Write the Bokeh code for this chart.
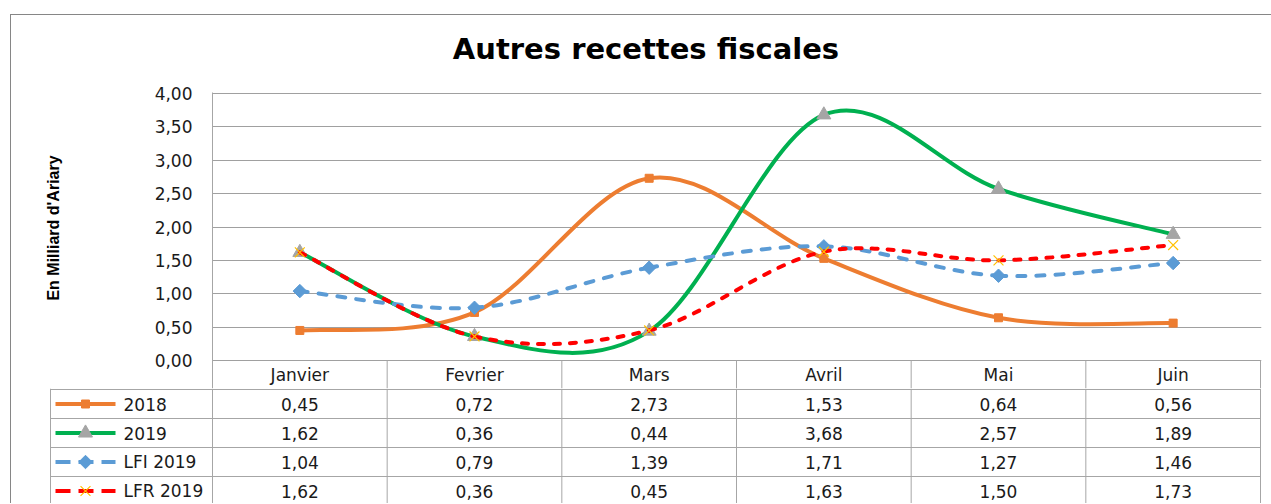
import numpy as np
from bokeh.plotting import figure
from bokeh.models import Range1d, FixedTicker
from bokeh.layouts import column, row
from bokeh.embed import file_html
from bokeh.resources import INLINE
from bokeh.core.properties import value

# ---------------- data ----------------
title_text = "Autres recettes fiscales"
y_axis_title = "En Milliard d'Ariary"
categories = ["Janvier", "Fevrier", "Mars", "Avril", "Mai", "Juin"]
series_names = ["2018", "2019", "LFI 2019", "LFR 2019"]
values_2018 = [0.45, 0.72, 2.73, 1.53, 0.64, 0.56]
values_2019 = [1.62, 0.36, 0.44, 3.68, 2.57, 1.89]
values_lfi_2019 = [1.04, 0.79, 1.39, 1.71, 1.27, 1.46]
values_lfr_2019 = [1.62, 0.36, 0.45, 1.63, 1.50, 1.73]
y_ticks = [0.0, 0.5, 1.0, 1.5, 2.0, 2.5, 3.0, 3.5, 4.0]
y_tick_labels = ["0,00", "0,50", "1,00", "1,50", "2,00", "2,50", "3,00", "3,50", "4,00"]

series_values = [values_2018, values_2019, values_lfi_2019, values_lfr_2019]

# ---------------- styles ----------------
styles = [
    dict(color="#ED7D31", dash="solid", marker="square", mfill="#ED7D31", mline="#ED7D31", msize=8, mwidth=1, angle=0),
    dict(color="#00B050", dash="solid", marker="triangle", mfill="#A5A5A5", mline="#A5A5A5", msize=14, mwidth=1, angle=0),
    dict(color="#5B9BD5", dash="8 11", marker="square", mfill="#5B9BD5", mline="#5B9BD5", msize=9.5, mwidth=1, angle=np.pi / 4),
    dict(color="#FF0000", dash="6 10", marker="x", mfill=None, mline="#FFC000", msize=14, mwidth=1.2, angle=0),
]
FONT = "DejaVu Sans"
FSIZE = "17px"
TXT = "#1a1a1a"
GRID = "#A0A0A0"
TABLE_LINE = "#A6A6A6"

W = 1260            # total width of the chart box content
COL_W = 1048 / 6.0  # pixel width of one category column
PX_PER_UNIT = 66.75 # vertical pixels per 1.00 on the value axis
ROW_H = 29.0


def smooth_segments(xs, ys):
    """Bezier control points (Catmull-Rom style smoothing as in Excel)."""
    n = len(xs)
    out = dict(x0=[], y0=[], x1=[], y1=[], cx0=[], cy0=[], cx1=[], cy1=[])
    for i in range(n - 1):
        a = max(i - 1, 0)
        d = min(i + 2, n - 1)
        out["x0"].append(xs[i]); out["y0"].append(ys[i])
        out["x1"].append(xs[i + 1]); out["y1"].append(ys[i + 1])
        out["cx0"].append(xs[i] + (xs[i + 1] - xs[a]) / 6.0)
        out["cy0"].append(ys[i] + (ys[i + 1] - ys[a]) / 6.0)
        out["cx1"].append(xs[i + 1] - (xs[d] - xs[i]) / 6.0)
        out["cy1"].append(ys[i + 1] - (ys[d] - ys[i]) / 6.0)
    return out


def bare(p):
    p.axis.visible = False
    p.grid.grid_line_color = None
    p.outline_line_color = None
    p.min_border = 0
    p.background_fill_color = "white"
    p.border_fill_color = "white"


# ---------------- title strip ----------------
T_H = 60
pT = figure(width=W, height=T_H, x_range=Range1d(0, W), y_range=Range1d(T_H, 0),
            output_backend="svg", toolbar_location=None)
bare(pT)
pT.text(x=[419], y=[33], text=[title_text], text_font=value("DejaVu Sans"),
        text_font_style="bold", text_font_size="29px", text_color="#000000",
        text_align="left", text_baseline="alphabetic")

# ---------------- y-axis title strip ----------------
A_H = 313
L_W = 130
pL = figure(width=L_W, height=A_H, x_range=Range1d(0, L_W), y_range=Range1d(A_H, 0),
            output_backend="svg", toolbar_location=None)
bare(pL)
pL.text(x=[42], y=[220], text=[y_axis_title], angle=np.pi / 2,
        text_font=value("Liberation Sans"), text_font_style="bold", text_font_size="16px",
        text_color="#000000", text_align="left", text_baseline="middle")

# ---------------- chart ----------------
xpos = list(range(len(categories)))
header_h = 28
y_bottom = -header_h / PX_PER_UNIT
pA = figure(width=W - L_W, height=A_H,
            x_range=Range1d(-0.5, 5.5 + 1 / COL_W),
            y_range=Range1d(y_bottom, 4 + 1 / PX_PER_UNIT),
            output_backend="svg", toolbar_location=None,
            min_border_left=71, min_border_right=10, min_border_top=17, min_border_bottom=0)
pA.outline_line_color = None
pA.xaxis.visible = False
pA.xgrid.grid_line_color = None
pA.ygrid.grid_line_color = GRID
pA.ygrid.ticker = FixedTicker(ticks=y_ticks)
pA.background_fill_color = "white"
pA.border_fill_color = "white"
yax = pA.yaxis[0]
yax.ticker = FixedTicker(ticks=y_ticks)
yax.major_label_overrides = dict(zip(y_ticks, y_tick_labels))
yax.major_tick_line_color = None
yax.minor_tick_line_color = None
yax.major_tick_out = 0
yax.major_tick_in = 0
yax.minor_tick_out = 0
yax.minor_tick_in = 0
yax.axis_line_color = TABLE_LINE
yax.major_label_text_font = FONT
yax.major_label_text_font_size = FSIZE
yax.major_label_text_color = TXT
yax.major_label_standoff = 20

# header row of the data table (category names)
sep_x = [k + 0.5 for k in range(len(categories))]
pA.segment(x0=sep_x, y0=[0] * len(sep_x), x1=sep_x, y1=[y_bottom] * len(sep_x),
           line_color=TABLE_LINE, line_width=1)
pA.text(x=xpos, y=[y_bottom / 2] * len(categories), text=categories, text_font=value(FONT),
        text_font_size=FSIZE, text_color=TXT, text_align="center", text_baseline="middle")

for vals, st in zip(series_values, styles):
    seg = smooth_segments(xpos, vals)
    pA.bezier(x0=seg["x0"], y0=seg["y0"], x1=seg["x1"], y1=seg["y1"],
              cx0=seg["cx0"], cy0=seg["cy0"], cx1=seg["cx1"], cy1=seg["cy1"],
              line_color=st["color"], line_width=4, line_dash=st["dash"], line_cap="round")
    pA.scatter(xpos, vals, marker=st["marker"], size=st["msize"], angle=st["angle"],
               fill_color=st["mfill"], line_color=st["mline"], line_width=st["mwidth"])

# ---------------- data table body ----------------
B_H = 115
b_top = 0.5 - 1 / ROW_H
x_left_line = -0.5 - 162 / COL_W
pB = figure(width=W, height=B_H,
            x_range=Range1d(-0.5 - 163 / COL_W, 5.5 + 2 / COL_W),
            y_range=Range1d(b_top + B_H / ROW_H, b_top),
            output_backend="svg", toolbar_location=None)
bare(pB)
pB.min_border_left = 38
pB.min_border_right = 9

n_rows = len(series_names)
vx = [-0.5 + k for k in range(len(categories) + 1)] + [x_left_line]
pB.segment(x0=vx, y0=[b_top] * len(vx), x1=vx, y1=[n_rows + 1] * len(vx),
           line_color=TABLE_LINE, line_width=1)
hy = [0.5 + k for k in range(n_rows)]
pB.segment(x0=[x_left_line] * len(hy), y0=hy, x1=[5.5] * len(hy), y1=hy,
           line_color=TABLE_LINE, line_width=1)

for r, vals in enumerate(series_values, start=1):
    labels = [f"{v:.2f}".replace(".", ",") for v in vals]
    pB.text(x=xpos, y=[r] * len(vals), text=labels, text_font=value(FONT),
            text_font_size=FSIZE, text_color=TXT, text_align="center", text_baseline="middle")

# legend keys
key_x0 = x_left_line + 5 / COL_W
key_x1 = x_left_line + 65 / COL_W
key_xm = x_left_line + 35 / COL_W
text_x = x_left_line + 73 / COL_W
for r, (name, st) in enumerate(zip(series_names, styles), start=1):
    dash = st["dash"] if st["dash"] == "solid" else "15 8"
    pB.segment(x0=[key_x0], y0=[r], x1=[key_x1], y1=[r], line_color=st["color"],
               line_width=4, line_dash=dash)
    pB.scatter([key_xm], [r], marker=st["marker"], size=st["msize"], angle=st["angle"],
               fill_color=st["mfill"], line_color=st["mline"], line_width=st["mwidth"])
    pB.text(x=[text_x], y=[r], text=[name], text_font=value(FONT), text_font_size=FSIZE,
            text_color=TXT, text_align="left", text_baseline="middle")

layout = column(pT, row(pL, pA, spacing=0), pB, spacing=0,
                styles={"margin-left": "10px", "margin-top": "14px",
                        "border-left": "1px solid #868686", "border-top": "1px solid #868686"})

open("out.html", "w").write(file_html(layout, INLINE))
